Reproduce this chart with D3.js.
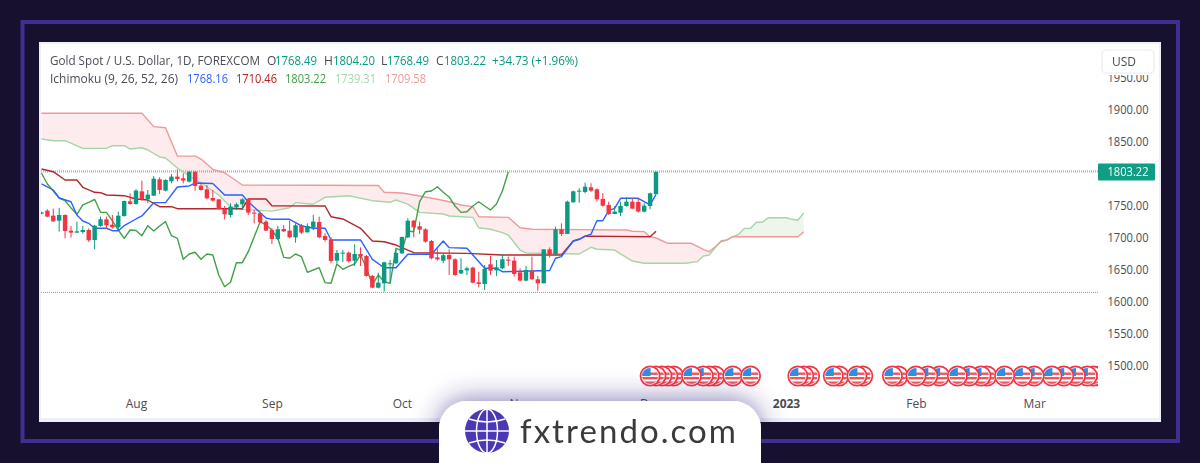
<!DOCTYPE html>
<html><head><meta charset="utf-8">
<script src="https://cdn.jsdelivr.net/npm/d3@7/dist/d3.min.js"></script>
<style>html,body{margin:0;padding:0;background:#17112f;overflow:hidden}svg{display:block}text{font-family:"Open Sans",sans-serif}</style>
</head><body><svg id="c" width="1200" height="463"></svg>
<script>
// ---- data (prices) ----
const firstBar = -16;
const opens=[1738,1742.7,1734.9,1727.1,1736,1711.5,1708.4,1709.4,1712.5,1696.9,1718.8,1729.2,1720.8,1716.7,1734.4,1757.3,1753.2,1772.9,1760.4,1766.2,1791.7,1774,1788.6,1795.9,1793.3,1788.1,1803.7,1781.8,1776.1,1762.5,1760.4,1745.3,1736,1747.9,1752.6,1760.4,1739.6,1738.6,1725.6,1712.5,1698.5,1714.1,1711.5,1701.1,1719.8,1708.9,1716.2,1725,1703.2,1697.9,1664.6,1676.1,1677.1,1664.6,1675,1671.9,1640.7,1622.4,1629.2,1658.9,1660.5,1676.1,1701.1,1727.1,1718.3,1713.6,1695.3,1669.8,1664.6,1673.5,1666.7,1644.8,1649.5,1653.7,1630.8,1628.2,1658.9,1649.5,1652.6,1666.2,1664.6,1646.4,1633.4,1649,1635.5,1629.2,1682.3,1674.5,1713.6,1706.3,1755.8,1772.4,1771.9,1779.2,1776.1,1761,1751.6,1737.5,1739.6,1750,1756.8,1756.3,1741.2,1750,1768.49];
const highs=[1741,1744.8,1745.9,1746.9,1737,1718.8,1725.6,1718.8,1715.1,1720.3,1733.4,1733.4,1736,1741.2,1758.4,1769.8,1776.1,1789.6,1775,1796.9,1794.8,1791.7,1800,1807.3,1801.1,1803.7,1803.7,1784.4,1782.8,1775,1760.4,1750,1754.2,1755.2,1762,1760.4,1743.8,1741.2,1728.2,1715.1,1718.8,1720.3,1727.1,1722.9,1721.9,1722.9,1736,1733.4,1707.3,1701.1,1681.3,1681.3,1678.7,1690.1,1685.4,1673.5,1642.2,1645.9,1663,1665.7,1681.3,1702.1,1730.8,1728.2,1725.6,1715.1,1696.9,1683.9,1675,1682.3,1668.3,1668.3,1655.2,1655.2,1647.4,1657.8,1671.9,1665.7,1675,1670.9,1670.9,1652.6,1656.3,1670.9,1640.7,1682.3,1685.4,1717.7,1722.9,1758.4,1774,1777.6,1786.5,1785.4,1777.6,1769.8,1756.8,1750,1756.8,1763.6,1762,1762,1754.2,1770.9,1804.2];
const lows=[1737,1732.3,1725,1709.9,1699.5,1700.6,1708.4,1706.8,1693.8,1682.3,1717.7,1714.6,1714.6,1712.5,1733.4,1752.1,1752.1,1758.4,1754.2,1765.7,1768.8,1772.9,1785.4,1788.6,1785.4,1786.5,1774,1774,1760.4,1756.8,1744.8,1729.2,1732.3,1743.8,1743.8,1736,1722.9,1722.9,1711,1690.7,1696.9,1709.4,1699.5,1692.7,1706.3,1708.4,1712.5,1699.5,1694.3,1660.5,1660.5,1662.5,1661.5,1656.3,1656.3,1639.6,1621.4,1621.4,1616.2,1630.2,1659.4,1675,1700,1701.1,1706.3,1692.7,1666.7,1664.6,1660.5,1642.2,1640.7,1643.8,1642.2,1629.2,1623,1618.8,1642.2,1640.7,1651.1,1656.3,1639.6,1632.3,1632.3,1634.4,1617.7,1629.2,1669.3,1673.5,1703.2,1706.3,1755.2,1755.2,1769.8,1771.9,1756.8,1749,1736,1737.5,1734.4,1749,1744.8,1740.1,1740.1,1744.8,1768.49];
const closes=[1740,1733.4,1726.1,1736,1711,1708.4,1710.4,1712.5,1696.4,1719.3,1729.2,1719.8,1716.7,1734.9,1757.8,1753.2,1774,1760.4,1767.7,1792.7,1775,1790.7,1795.9,1792.2,1789.6,1803.7,1781.3,1775,1762,1758.4,1745.3,1737,1749,1752.6,1760.4,1739.6,1738.6,1724.5,1711.5,1698.5,1713.6,1710.4,1701.1,1719.8,1708.4,1718.8,1725.6,1701.1,1696.9,1664.1,1676.6,1677.1,1663.6,1675,1671.4,1640.7,1622.4,1630.2,1662,1660.5,1676.6,1701.6,1727.1,1716.7,1713.1,1694.3,1668.3,1666.7,1673,1666.7,1642.2,1650,1652.6,1630.2,1628.2,1651.6,1649,1654.2,1666.7,1664.6,1643.8,1633.4,1650,1635.5,1629.2,1682.3,1674.5,1713.6,1706.3,1756.8,1772.9,1774,1780.2,1774,1760.4,1750.5,1737.5,1741.2,1750,1756.8,1745.9,1741.2,1750.5,1769.8,1803.22];

const tenkanBars=[-16,-14,-13,-11,-10,-9,-8,-7,-5,-4,-3,-2,0,1,3,5,7,9,10,13,15,18,19,22,23,26,28,30,32,33,38,40,42,44,46,50,52,53,56,59,61,62,70,71,72,74,75,76,77,78,79,80,81,82,85,87,88];
const tenkanVals=[1784.4,1775,1762.5,1756.7,1735.9,1726.6,1723,1715.2,1715.2,1711.4,1711.4,1719.2,1729.7,1734.4,1755.2,1755.2,1779.7,1781.3,1785.9,1785.2,1767.2,1767.2,1756.7,1731.3,1729.2,1729.2,1718.8,1715.2,1715.2,1696.9,1696.9,1666.7,1653.6,1653.6,1674.5,1674.5,1695.3,1684.9,1683.9,1652.7,1652.7,1647.3,1649.2,1668.3,1670.8,1695.3,1698,1703,1706,1727,1727,1742.7,1746.4,1762,1762,1751.6,1768.16];
const kijunBars=[-16,-14,-12,-10,-9,-7,-6,-5,-2,0,2,4,6,7,18,19,22,23,32,33,35,38,40,42,44,47,56,62,72,74,75,76,87,88];
const kijunVals=[1807.8,1803.6,1790.6,1790.6,1779.2,1771.4,1770.8,1767.2,1766.1,1761,1759.4,1748.9,1748.9,1745.8,1745.8,1761,1761,1750.5,1750,1733.3,1729.7,1715.2,1695.3,1694.2,1689,1677,1676,1673.4,1673.4,1695.3,1698,1703,1702,1710.46];
const chikouStart=-16;
const chikouVals=[1801.6,1784.4,1773.4,1762.5,1758.3,1747,1737,1751.6,1755.5,1760.5,1740.1,1740.1,1726.6,1712.5,1699.5,1712.5,1711.7,1703.6,1719.2,1710.9,1718.8,1725.5,1703.6,1699.5,1666.7,1675,1677.7,1666.7,1675,1673.4,1642.2,1623.9,1630.8,1661.4,1661.4,1678.6,1701.6,1725.5,1720.3,1712.5,1699.5,1669.8,1668.3,1675,1670.8,1646.4,1650,1653.6,1630.2,1629.2,1659.4,1651.1,1655.5,1659.4,1673.4,1653.1,1626.6,1642.2,1631.7,1629.2,1683.9,1680.2,1710.9,1709.8,1756.7,1772.3,1773.4,1780.1,1771.4,1764,1750,1740,1741,1750,1756.7,1750,1743.8,1753,1773.4,1803.22];
const spanABars=[-16,-14,-12,-9,-5,-4,-2,-1,1,2,4,5,7,10,11,14,16,18,23,26,27,30,32,36,40,43,44,46,48,52,53,57,58,60,62,63,65,66,75,77,78,81,84,86,93,95,96,97,99,100,101];
const spanAVals=[1854.7,1852,1852,1840.1,1840,1844.2,1844.2,1839,1841,1837.5,1826.6,1825,1809.4,1790.6,1786.4,1767.2,1748.4,1744.8,1742,1747.3,1755.2,1752.7,1763.6,1766.1,1758.3,1755.8,1759.4,1753,1740,1737.5,1734.4,1732.3,1716,1713.6,1708.3,1704.7,1681.2,1676.6,1675,1685.5,1682.4,1681.2,1664,1660.5,1660.5,1663,1671.9,1673.5,1695.8,1696.9,1702];
const spanBBars=[-16,1,3,5,7,10,11,13,15,18,41,42,45,48,51,53,55,57,58,63,65,67,83,84,86,87,88,90,94,96,97,99,100,101];
const spanBVals=[1895,1895,1874,1872.3,1828.1,1828,1823.4,1807.3,1802,1782.8,1782,1771.4,1770.3,1765.6,1760.5,1756.7,1751.6,1749,1733.3,1732.3,1716.1,1713.6,1712.5,1710.5,1709.9,1702,1700,1691.7,1691.7,1682.3,1678.6,1694.2,1696.9,1702];
const aheadABars=[101,102,103,104,105,106,107,110,111,112,113];
const aheadAVals=[1702,1705.8,1715.1,1715.1,1724.5,1724.5,1731.7,1731.7,1729.2,1727.7,1739.31];
const aheadBBars=[101,112,113];
const aheadBVals=[1702,1702,1709.58];

const priceTicks=[1500,1550,1600,1650,1700,1750,1850,1900,1950];
const timeBars=[0,23,45,65,87,110,132,152];
const timeLabels=["Aug","Sep","Oct","Nov","Dec","2023","Feb","Mar"];
const eventGroups=[[87,88,89,90,91],[94,96,97,98],[101],[104],[112,113,114],[118,119],[122,123],[128,129],[132,134,136],[139,141,143,144],[147,150,152,155,157,159,161,162,163]];
const lastClose=1803.22, highLine=1804.7, lowLine=1615;

const row1=[["Gold Spot / U.S. Dollar, 1D, FOREXCOM",50,"#4a4c55",210],["O",267,"#4a4c55"],["1768.49",275,"#089981",42],["H",324,"#4a4c55"],["1804.20",333,"#089981",42],["L",381,"#4a4c55"],["1768.49",387,"#089981",42],["C",436,"#4a4c55"],["1803.22",444,"#089981",42],["+34.73 (+1.96%)",492,"#089981",86]];
const row2=[["Ichimoku (9, 26, 52, 26)",50,"#4a4c55",128],["1768.16",187,"#2962ff",41],["1710.46",236,"#b71c1c",41],["1803.22",285,"#43a047",41],["1739.31",335,"#a5d6a7",41],["1709.58",385,"#ef9a9a",41]];

// ---- scales ----
const x=d3.scaleLinear().domain([0,88]).range([136,656]);
const y=d3.scaleLinear().domain([1500,1900]).range([366,110]);
const plotL=41, plotR=1098, plotT=44, plotB=393;

const svg=d3.select("#c");
const defs=svg.append("defs");
defs.append("clipPath").attr("id","plot").append("rect").attr("x",plotL).attr("y",plotT).attr("width",plotR-plotL).attr("height",plotB-plotT);
defs.append("clipPath").attr("id","flagClip").append("circle").attr("r",8);
const f=defs.append("filter").attr("id","pillShadow").attr("x","-20%").attr("y","-80%").attr("width","140%").attr("height","260%");
f.append("feDropShadow").attr("dx",0).attr("dy",-2).attr("stdDeviation",13).attr("flood-color","#3a2f8c").attr("flood-opacity",.6);
defs.append("filter").attr("id","soft").append("feGaussianBlur").attr("stdDeviation",.42);

// chart panel
svg.append("rect").attr("width",1200).attr("height",463).attr("fill","#17112f");
svg.append("rect").attr("x",39).attr("y",42).attr("width",1122).attr("height",380).attr("fill","#eef0f8");
svg.append("rect").attr("x",41).attr("y",44).attr("width",1118).attr("height",374).attr("fill","#fff");

const plot=svg.append("g").attr("clip-path","url(#plot)");
const soft=plot.append("g").attr("filter","url(#soft)");

// horizontal reference lines
[[highLine,"#8f939e"],[lastClose,"#6cc2b0"],[lowLine,"#8f939e"]].forEach(([p,c])=>{
  soft.append("line").attr("x1",plotL).attr("x2",plotR).attr("y1",y(p)).attr("y2",y(p)).attr("stroke",c).attr("stroke-width",1).attr("stroke-dasharray","1 1");
});

// cloud
const zip=(b,v)=>b.map((d,i)=>[d,v[i]]);
const poly=(upper,lower)=>d3.line().x(d=>x(d[0])).y(d=>y(d[1]))(upper.concat(lower.slice().reverse()))+"Z";
const line=d3.line().x(d=>x(d[0])).y(d=>y(d[1]));
const A=zip(spanABars,spanAVals), B=zip(spanBBars,spanBVals), A2=zip(aheadABars,aheadAVals), B2=zip(aheadBBars,aheadBVals);
soft.append("path").attr("d",poly(B,A)).attr("fill","#f23645").attr("fill-opacity",.1);
soft.append("path").attr("d",poly(A2,B2)).attr("fill","#43a047").attr("fill-opacity",.1);

const drawLine=(pts,c,w)=>soft.append("path").attr("d",line(pts)).attr("fill","none").attr("stroke",c).attr("stroke-width",w).attr("stroke-linejoin","round");
drawLine(A,"#a5d6a7",1.4); drawLine(A2,"#a5d6a7",1.4);
drawLine(B,"#ef9a9a",1.4); drawLine(B2,"#ef9a9a",1.4);
drawLine(chikouVals.map((v,i)=>[chikouStart+i,v]),"#43a047",1.4);
drawLine(zip(kijunBars,kijunVals),"#b3282d",1.4);
drawLine(zip(tenkanBars,tenkanVals),"#2962ff",1.4);

// candles
const bars=opens.map((o,i)=>({b:firstBar+i,o,h:highs[i],l:lows[i],c:closes[i]}));
const col=d=>d.c>=d.o?"#089981":"#f23645";
soft.append("g").selectAll("line").data(bars).join("line")
  .attr("x1",d=>x(d.b)).attr("x2",d=>x(d.b)).attr("y1",d=>y(d.h)).attr("y2",d=>y(d.l))
  .attr("stroke",col).attr("stroke-width",1);
soft.append("g").selectAll("rect").data(bars).join("rect")
  .attr("x",d=>x(d.b)-2.2).attr("width",4.4)
  .attr("y",d=>y(Math.max(d.o,d.c)))
  .attr("height",d=>Math.max(1,Math.abs(y(d.o)-y(d.c))))
  .attr("fill",col);

// event flags
const flagLayer=soft.append("g");
eventGroups.forEach(g=>{
  g.slice().reverse().forEach(b=>{
    const m=flagLayer.append("g").attr("transform",`translate(${x(b)},376)`);
    m.append("circle").attr("r",9.6).attr("fill","#fff").attr("stroke","#f23645").attr("stroke-width",1.7);
    const k=m.append("g").attr("clip-path","url(#flagClip)");
    [-3.5,1,5.5].forEach(s=>k.append("rect").attr("x",-9).attr("y",s).attr("width",18).attr("height",2.4).attr("fill","#f0565f"));
    k.append("rect").attr("x",-9).attr("y",-9).attr("width",9.5).attr("height",9).attr("fill","#2f8fe8");
  });
});

// price axis
const yAxis=d3.axisRight(y).tickValues(priceTicks).tickFormat(d3.format(".2f")).tickSize(0).tickPadding(0);
const ya=svg.append("g").attr("transform","translate(1107.5,-0.6)").call(yAxis);
ya.select(".domain").remove();
ya.selectAll("text").attr("fill","#4a4c55").attr("textLength",41).attr("lengthAdjust","spacingAndGlyphs").style("font-size","12.3px");

// time axis
const xAxis=d3.axisBottom(x).tickValues(timeBars).tickFormat((d,i)=>timeLabels[i]).tickSize(0).tickPadding(0);
const xa=svg.append("g").attr("transform","translate(0,399)").call(xAxis);
xa.select(".domain").remove();
xa.selectAll("text").attr("fill","#4a4c55").style("font-size","12px").style("font-weight",d=>d===110?700:400);

// last price badge
svg.append("rect").attr("x",1098).attr("y",y(lastClose)-8.5).attr("width",57).attr("height",17).attr("fill","#0f9d84").attr("rx",1);
svg.append("text").attr("x",1107.5).attr("y",y(lastClose)+4.5).attr("fill","#fff").attr("textLength",41).attr("lengthAdjust","spacingAndGlyphs").style("font-size","12.3px").text(d3.format(".2f")(lastClose));

// currency button
svg.append("rect").attr("x",1099).attr("y",46).attr("width",58).attr("height",29).attr("fill","#fff");
svg.append("rect").attr("x",1102).attr("y",50).attr("width",52).attr("height",23).attr("rx",4).attr("fill","#fff").attr("stroke","#e9ebf3").attr("stroke-width",1.2);
svg.append("text").attr("x",1112).attr("y",66).attr("fill","#4a4c55").style("font-size","12px").text("USD");

// legend
const legend=(row,yy)=>row.forEach(([t,xx,c,w])=>{
  const e=svg.append("text").attr("x",xx).attr("y",yy).attr("fill",c).style("font-size","12px").text(t);
  if(w) e.attr("textLength",w).attr("lengthAdjust","spacingAndGlyphs");
});
legend(row1,65); legend(row2,83);

// brand pill
const pillPath="M439 463V429a28 28 0 0 1 28-28H733a28 28 0 0 1 28 28V463Z";
const pill=svg.append("g");
pill.append("path").attr("d",pillPath).attr("fill","#fff").attr("filter","url(#pillShadow)");
pill.append("rect").attr("x",0).attr("y",422).attr("width",439).attr("height",41).attr("fill","#17112f");
pill.append("rect").attr("x",761).attr("y",422).attr("width",439).attr("height",41).attr("fill","#17112f");
// frame
pill.append("rect").attr("x",22.5).attr("y",22).attr("width",1155.5).attr("height",419).attr("fill","none").attr("stroke","#3e2f90").attr("stroke-width",4);
pill.append("path").attr("d",pillPath).attr("fill","#fff");
const globe=pill.append("g").attr("transform","translate(487,431)");
globe.append("circle").attr("r",22).attr("fill","#4a38b5");
const gs={fill:"none",stroke:"#fff","stroke-width":1.5};
const addG=(tag,a)=>{const e=globe.append(tag);Object.entries({...gs,...a}).forEach(([k,v])=>e.attr(k,v));};
addG("ellipse",{rx:10.5,ry:22});
addG("line",{x1:0,x2:0,y1:-22,y2:22});
addG("line",{x1:-22,x2:22,y1:0,y2:0});
addG("path",{d:"M-18-12Q0-6 18-12"});
addG("path",{d:"M-18 12Q0 6 18 12"});
svg.append("text").attr("x",520).attr("y",443).attr("fill","#3a3a3c").attr("textLength",216).attr("lengthAdjust","spacing").style("font-family","Lato,sans-serif").style("font-size","33px").text("fxtrendo.com");
</script></body></html>
